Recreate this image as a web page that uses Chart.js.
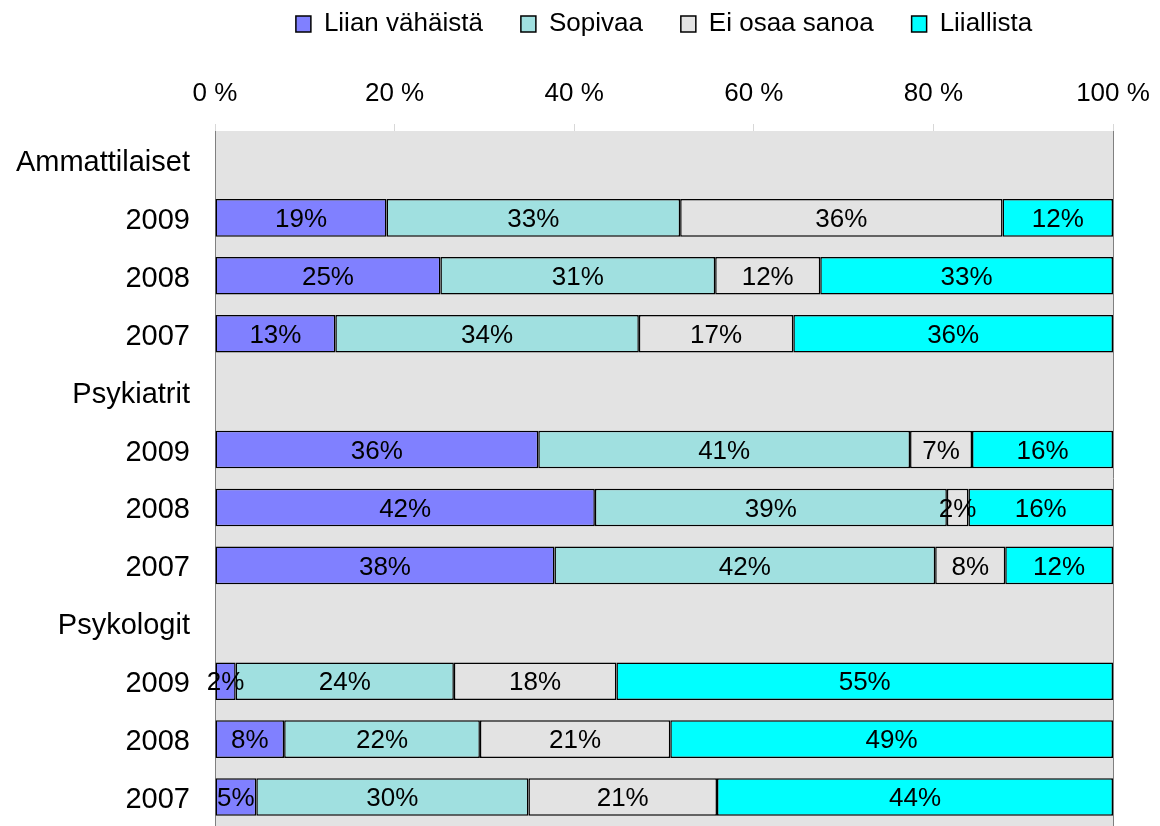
<!DOCTYPE html>
<html lang="fi">
<head>
<meta charset="utf-8">
<title>Liian vähäistä / Sopivaa / Ei osaa sanoa / Liiallista</title>
<script src="https://cdn.jsdelivr.net/npm/chart.js@4/dist/chart.umd.min.js"></script>
<style>
    html, body { margin: 0; padding: 0; background: #ffffff; }
    #wrap { width: 1160px; height: 826px; position: relative; }
</style>
</head>
<body>
<div id="wrap"><canvas id="stackChart"></canvas></div>
<script>
// Rows top to bottom (group headers have no bar)
const categories = [
    "Ammattilaiset", "2009", "2008", "2007",
    "Psykiatrit", "2009", "2008", "2007",
    "Psykologit", "2009", "2008", "2007"
];
const seriesNames = ["Liian vähäistä", "Sopivaa", "Ei osaa sanoa", "Liiallista"];

// Shares in percent
const liianVahaista = [null, 19.1, 25.1, 13.4, null, 36.0, 42.3, 37.8, null, 2.3, 7.7, 4.6];
const sopivaa       = [null, 32.7, 30.6, 33.8, null, 41.4, 39.2, 42.4, null, 24.3, 21.8, 30.3];
const eiOsaaSanoa   = [null, 35.9, 11.7, 17.2, null, 6.9, 2.4, 7.8, null, 18.1, 21.2, 21.0];
const liiallista    = [null, 12.3, 32.6, 35.6, null, 15.7, 16.1, 12.0, null, 55.3, 49.3, 44.1];

const tickValues = [0, 20, 40, 60, 80, 100];

const FONT = "'Liberation Sans', Arial, Helvetica, sans-serif";

// Gray plot area behind the bars
const plotBackground = {
    id: "plotBackground",
    beforeDraw(chart) {
        const { ctx, chartArea } = chart;
        ctx.save();
        ctx.fillStyle = "#e3e3e3";
        ctx.fillRect(chartArea.left, chartArea.top, chartArea.right - chartArea.left, chartArea.bottom - chartArea.top);
        ctx.restore();
    }
};

// Percent labels centered on every segment
const segmentLabels = {
    id: "segmentLabels",
    afterDatasetsDraw(chart) {
        const ctx = chart.ctx;
        ctx.save();
        ctx.font = "26px " + FONT;
        ctx.fillStyle = "#000000";
        ctx.textAlign = "center";
        ctx.textBaseline = "middle";
        chart.data.datasets.forEach((ds, i) => {
            const meta = chart.getDatasetMeta(i);
            meta.data.forEach((bar, j) => {
                const v = ds.data[j];
                if (v === null || v === undefined) return;
                ctx.fillText(Math.round(v) + "%", (bar.x + bar.base) / 2, bar.y + 2);
            });
        });
        ctx.restore();
    }
};

document.addEventListener("DOMContentLoaded", () => {
    const colors = ["#8080ff", "#a0e0e0", "#e3e3e3", "#00ffff"];
    const values = [liianVahaista, sopivaa, eiOsaaSanoa, liiallista];

    const datasets = seriesNames.map((name, i) => ({
        label: name,
        data: values[i],
        backgroundColor: colors[i],
        borderColor: "#000000",
        borderWidth: 1.5,
        borderSkipped: false,
        barPercentage: 0.65,
        categoryPercentage: 1.0
    }));

    new Chart(document.getElementById("stackChart"), {
        type: "bar",
        data: { labels: categories, datasets: datasets },
        options: {
            indexAxis: "y",
            responsive: true,
            maintainAspectRatio: false,
            animation: false,
            layout: { padding: { top: -27, right: 47, bottom: 0, left: 0 } },
            plugins: {
                tooltip: { enabled: false },
                legend: {
                    position: "top",
                    fullSize: false,
                    labels: {
                        color: "#000000",
                        font: { family: FONT, size: 26 },
                        boxWidth: 15,
                        boxHeight: 16,
                        padding: 38
                    }
                }
            },
            scales: {
                x: {
                    position: "top",
                    stacked: true,
                    min: 0,
                    max: 100,
                    afterBuildTicks: (scale) => {
                        scale.ticks = tickValues.map((v) => ({ value: v }));
                    },
                    afterFit: (scale) => {
                        scale.height = 84;
                        scale.paddingLeft = 0;
                        scale.paddingRight = 0;
                    },
                    ticks: {
                        color: "#000000",
                        font: { family: FONT, size: 26 },
                        padding: 15,
                        callback: (v) => v + " %"
                    },
                    grid: {
                        color: (c) => (c.tick && c.tick.value === 100 ? "#808080" : "rgba(0,0,0,0)"),
                        tickColor: "#d8d8d8",
                        tickLength: 7,
                        lineWidth: 1
                    },
                    border: { display: false }
                },
                y: {
                    stacked: true,
                    afterFit: (scale) => {
                        scale.width = 215;
                        scale.paddingTop = 0;
                        scale.paddingBottom = 0;
                    },
                    ticks: {
                        color: "#000000",
                        font: { family: FONT, size: 29 },
                        padding: 25,
                        labelOffset: 3,
                        autoSkip: false
                    },
                    grid: { display: false, drawTicks: false },
                    border: { display: true, color: "#808080", width: 1 }
                }
            }
        },
        plugins: [plotBackground, segmentLabels]
    });
});
</script>
</body>
</html>
